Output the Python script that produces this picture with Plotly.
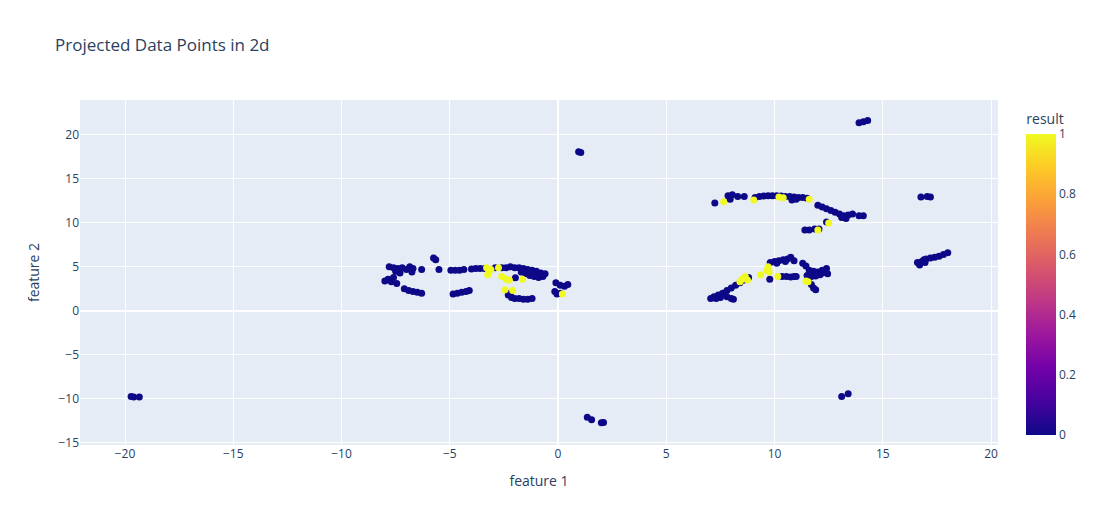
import plotly.graph_objects as go

# points with result == 0
neg_x = [
    -7.8, -7.6, -7.4, -7.2, -7.0, -6.85, -6.7, -6.75, -7.3, -7.5, -6.3,
    -8.0, -7.85, -7.7, -7.6, -7.45,
    -7.1, -6.9, -6.7, -6.5, -6.3,
    -5.75, -5.65, -5.5,
    -4.95, -4.75, -4.55, -4.35,
    -4.85, -4.65, -4.45, -4.25, -4.1,
    -4.0, -3.8, -3.6, -3.4,
    -2.9, -2.6, -2.4, -2.2, -2.0, -1.8, -1.6, -1.4, -1.2, -1.0, -0.8, -0.6,
    -1.5, -1.3, -1.1, -0.9, -0.7, -1.7, -1.97,
    -2.3, -2.15, -2.0, -1.8, -1.6, -1.4, -1.2, -2.2,
    -0.1, 0.1, 0.3, 0.45, -0.15, -0.05, 0.1,
    0.95, 1.05,
    1.35, 1.55, 2.0, 2.1,
    -19.72, -19.6, -19.34,
    13.9, 14.1, 14.3,
    13.1, 13.4,
    7.24, 7.85, 7.95, 8.05, 8.3, 8.6,
    9.1, 9.3, 9.5, 9.7, 9.9, 10.1, 10.3, 10.5, 10.7, 10.9, 11.1, 11.3, 11.5, 10.8, 11.0,
    12.0, 12.2, 12.4, 12.6, 12.8, 13.0, 13.2, 13.4, 13.1, 13.3, 13.6, 13.9, 14.1,
    12.4, 11.4, 11.6, 11.85, 12.05,
    7.05, 7.2, 7.4, 7.6, 7.8, 8.0, 8.2, 8.4, 8.6, 8.8, 7.5, 7.8, 8.0, 8.1, 7.3,
    9.8, 10.0, 10.2, 10.4, 10.6, 10.75, 10.9, 10.1, 10.5,
    9.78, 10.35, 10.55, 10.75, 10.9, 11.0,
    11.3, 11.45, 11.6, 11.8, 12.0, 12.2, 12.4, 12.45, 12.2, 11.5, 11.7, 11.9, 12.1,
    11.55, 11.7, 11.8, 11.9,
    16.76, 17.05, 17.2,
    16.6, 16.7, 16.8, 16.9, 17.0, 17.2, 17.4, 17.6, 17.8, 18.0, 16.95,
]
neg_y = [
    5.0, 4.9, 4.8, 4.9, 4.7, 5.0, 4.8, 4.4, 4.3, 4.5, 4.7,
    3.4, 3.6, 3.3, 3.8, 3.1,
    2.5, 2.3, 2.2, 2.1, 2.0,
    6.0, 5.8, 4.7,
    4.6, 4.6, 4.6, 4.7,
    1.9, 2.0, 2.1, 2.2, 2.3,
    4.75, 4.8, 4.8, 4.8,
    4.9, 4.9, 4.9, 5.0, 4.9, 4.9, 4.8, 4.7, 4.6, 4.5, 4.3, 4.2,
    4.2, 4.0, 3.9, 3.8, 3.9, 4.4, 3.75,
    1.8, 1.5, 1.4, 1.4, 1.3, 1.3, 1.4, 2.0,
    3.2, 2.9, 2.8, 3.0, 2.2, 1.9, 2.0,
    18.1, 18.0,
    -12.1, -12.4, -12.75, -12.7,
    -9.74, -9.8, -9.8,
    21.4, 21.5, 21.65,
    -9.74, -9.43,
    12.27, 13.1, 12.7, 13.2, 13.0, 13.0,
    12.9, 13.0, 13.05, 13.1, 13.1, 13.1, 13.05, 13.0, 13.0, 12.95, 12.9, 12.9, 12.8, 12.6, 12.7,
    12.0, 11.8, 11.6, 11.4, 11.2, 11.0, 10.8, 10.9, 10.6, 10.5, 11.0, 10.8, 10.8,
    10.1, 9.2, 9.2, 9.3, 9.3,
    1.4, 1.6, 1.8, 2.0, 2.3, 2.6, 2.9, 3.2, 3.5, 3.8, 1.5, 1.6, 1.4, 1.3, 1.4,
    5.5, 5.6, 5.7, 5.8, 5.9, 6.1, 5.7, 5.4, 5.6,
    3.6, 3.9, 3.9, 3.85, 3.9, 3.9,
    5.4, 5.1, 4.6, 4.5, 4.4, 4.6, 4.8, 4.2, 4.3, 4.0, 3.9, 3.95, 4.1,
    3.5, 3.0, 2.6, 2.4,
    12.95, 13.0, 12.95,
    5.5, 5.2, 5.6, 5.8, 5.9, 6.0, 6.1, 6.2, 6.4, 6.6, 5.5,
]

# points with result == 1
pos_x = [
    -3.3, -3.2, -3.25, -3.1, -2.75,
    -2.6, -2.4, -2.25, -1.64,
    -2.45, -2.1,
    0.2,
    7.65, 9.04, 10.2, 10.4, 11.6,
    12.5, 12.0,
    8.4, 8.5, 8.65, 8.75,
    9.7, 9.65, 9.75, 9.36, 10.15,
    11.45, 11.55,
]
pos_y = [
    4.9, 4.5, 4.1, 4.7, 4.9,
    3.9, 3.6, 3.5, 3.6,
    2.4, 2.3,
    1.9,
    12.4, 12.6, 12.95, 12.85, 12.7,
    10.0, 9.2,
    3.3, 3.6, 3.9, 3.5,
    5.0, 4.6, 4.4, 4.1, 3.9,
    3.4, 3.3,
]

feature_1 = neg_x + pos_x
feature_2 = neg_y + pos_y
result = [0] * len(neg_x) + [1] * len(pos_x)

fig = go.Figure(go.Scatter(
    x=feature_1, y=feature_2, mode="markers",
    marker=dict(color=result, coloraxis="coloraxis", size=7),
    hovertemplate="feature 1=%{x}<br>feature 2=%{y}<br>result=%{marker.color}<extra></extra>",
))

# page body has an 8px margin; shrink/shift so the plot lands where the reference has it
fig.update_layout(
    template="plotly",
    width=1087, height=517,
    margin=dict(l=72, r=80, t=92, b=80),
    title=dict(text="Projected Data Points in 2d", x=47 / 1087,
               y=1 - 37 / 517, yref="container", yanchor="middle"),
    coloraxis=dict(colorscale="Plasma", cmin=0, cmax=1,
                   colorbar=dict(title=dict(text="result"))),
    xaxis=dict(title="feature 1", range=[-22.08, 20.32]),
    yaxis=dict(title="feature 2", range=[-15.27, 23.98]),
)

fig.write_html("out.html")
